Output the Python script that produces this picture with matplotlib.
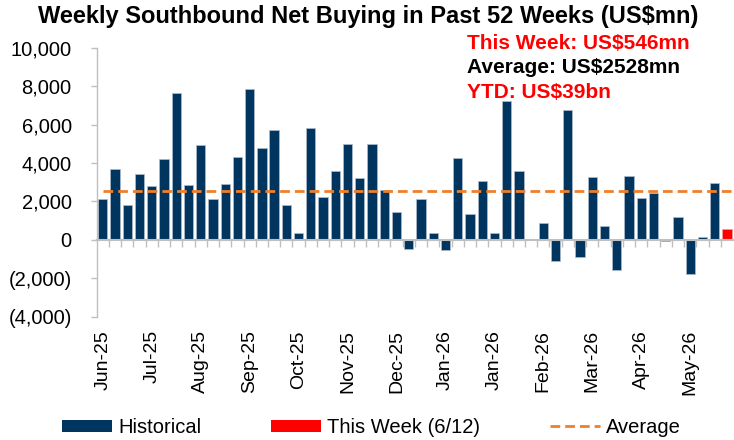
import matplotlib
matplotlib.use("Agg")
import matplotlib.pyplot as plt
from matplotlib.ticker import FuncFormatter, FixedLocator, NullFormatter
from matplotlib.patches import Patch
from matplotlib.lines import Line2D
import matplotlib.transforms as mtransforms

plt.rcParams['font.family'] = ['Liberation Sans', 'DejaVu Sans']

# weekly southbound net buying (US$mn), oldest first, last week separated out
hist_values = [2110, 3670, 1800, 3410, 2790, 4190, 7620, 2830, 4920, 2150,
               2890, 4300, 7850, 4770, 5700, 1800, 360, 5820, 2250, 3570,
               4990, 3220, 4990, 2570, 1470, -490, 2110, 360, -540, 4250,
               1320, 3050, 380, 7230, 3600, 0, 880, -1080, 6760, -870,
               3260, 710, -1560, 3330, 2170, 2430, -70, 1210, -1790, 140,
               2950]
this_week_value = 546
average_value = 2528
month_labels = ['Jun-25', 'Jul-25', 'Aug-25', 'Sep-25', 'Oct-25', 'Nov-25',
                'Dec-25', 'Jan-26', 'Jan-26', 'Feb-26', 'Mar-26', 'Apr-26', 'May-26']
label_step = 4
notes = [('This Week: US$546mn', 'red'),
         ('Average: US$2528mn', 'black'),
         ('YTD: US$39bn', 'red')]

navy = '#00355f'
grey = '#bfbfbf'
orange = '#f07f2a'

fig = plt.figure(figsize=(7.34, 4.4), dpi=100)
ax = fig.add_axes([0.1317, 0.2802, 0.867, 0.6114])

n = len(hist_values)
ax.bar(range(n), hist_values, width=0.76, color=navy, edgecolor='#aebccb', linewidth=0.5, zorder=2)
ax.bar([n], [this_week_value], width=0.76, color='red', edgecolor='#f0a0a0', linewidth=0.5, zorder=2)
ax.axhline(average_value, xmin=0.01, xmax=1, color=orange, lw=2, linestyle=(0, (3.5, 1.8)), zorder=3)

ax.set_xlim(-0.5, n + 0.5)
ax.set_ylim(-4000, 10000)
ax.set_yticks(range(-4000, 10001, 2000))
ax.yaxis.set_major_formatter(FuncFormatter(
    lambda v, p: f"{v:,.0f}" if v >= 0 else f"({-v:,.0f})"))
ax.tick_params(axis='y', length=4.3, width=1, color=grey, labelsize=14.5, pad=13.7)

for s in ['top', 'right']:
    ax.spines[s].set_visible(False)
ax.spines['left'].set_color(grey)
ax.spines['left'].set_linewidth(1)
ax.spines['bottom'].set_position(('data', 0))
ax.spines['bottom'].set_color(grey)
ax.spines['bottom'].set_linewidth(1.5)

ax.xaxis.set_major_locator(FixedLocator([i + 0.5 for i in range(n)]))
ax.xaxis.set_major_formatter(NullFormatter())
ax.tick_params(axis='x', length=5, width=1, color=grey, direction='out')

trans = mtransforms.blended_transform_factory(ax.transData, ax.transAxes)
for k, lab in enumerate(month_labels):
    ax.text(k * label_step, -0.05, lab, transform=trans, rotation=90,
            ha='center', va='top', fontsize=14)

fig.text(0.502, 0.947, 'Weekly Southbound Net Buying in Past 52 Weeks (US$mn)',
         ha='center', va='baseline', fontsize=17, fontweight='bold')
for (txt, col), yy in zip(notes, [0.888, 0.8334, 0.778]):
    fig.text(467 / 734, yy, txt, color=col, ha='left', va='baseline',
             fontsize=15, fontweight='bold')

handles = [Patch(facecolor=navy, edgecolor='none'),
           Patch(facecolor='red', edgecolor='none'),
           Line2D([], [], color=orange, lw=2, linestyle=(0, (3.5, 1.8)))]
fig.legend(handles, ['Historical', 'This Week (6/12)', 'Average'],
           loc='center left', bbox_to_anchor=(62 / 734, 0.029), ncol=3,
           frameon=False, fontsize=14.5, handlelength=2.5, handleheight=0.55,
           handletextpad=0.3, columnspacing=3.45, borderpad=0, borderaxespad=0)

fig.savefig('out.png', dpi=100)
